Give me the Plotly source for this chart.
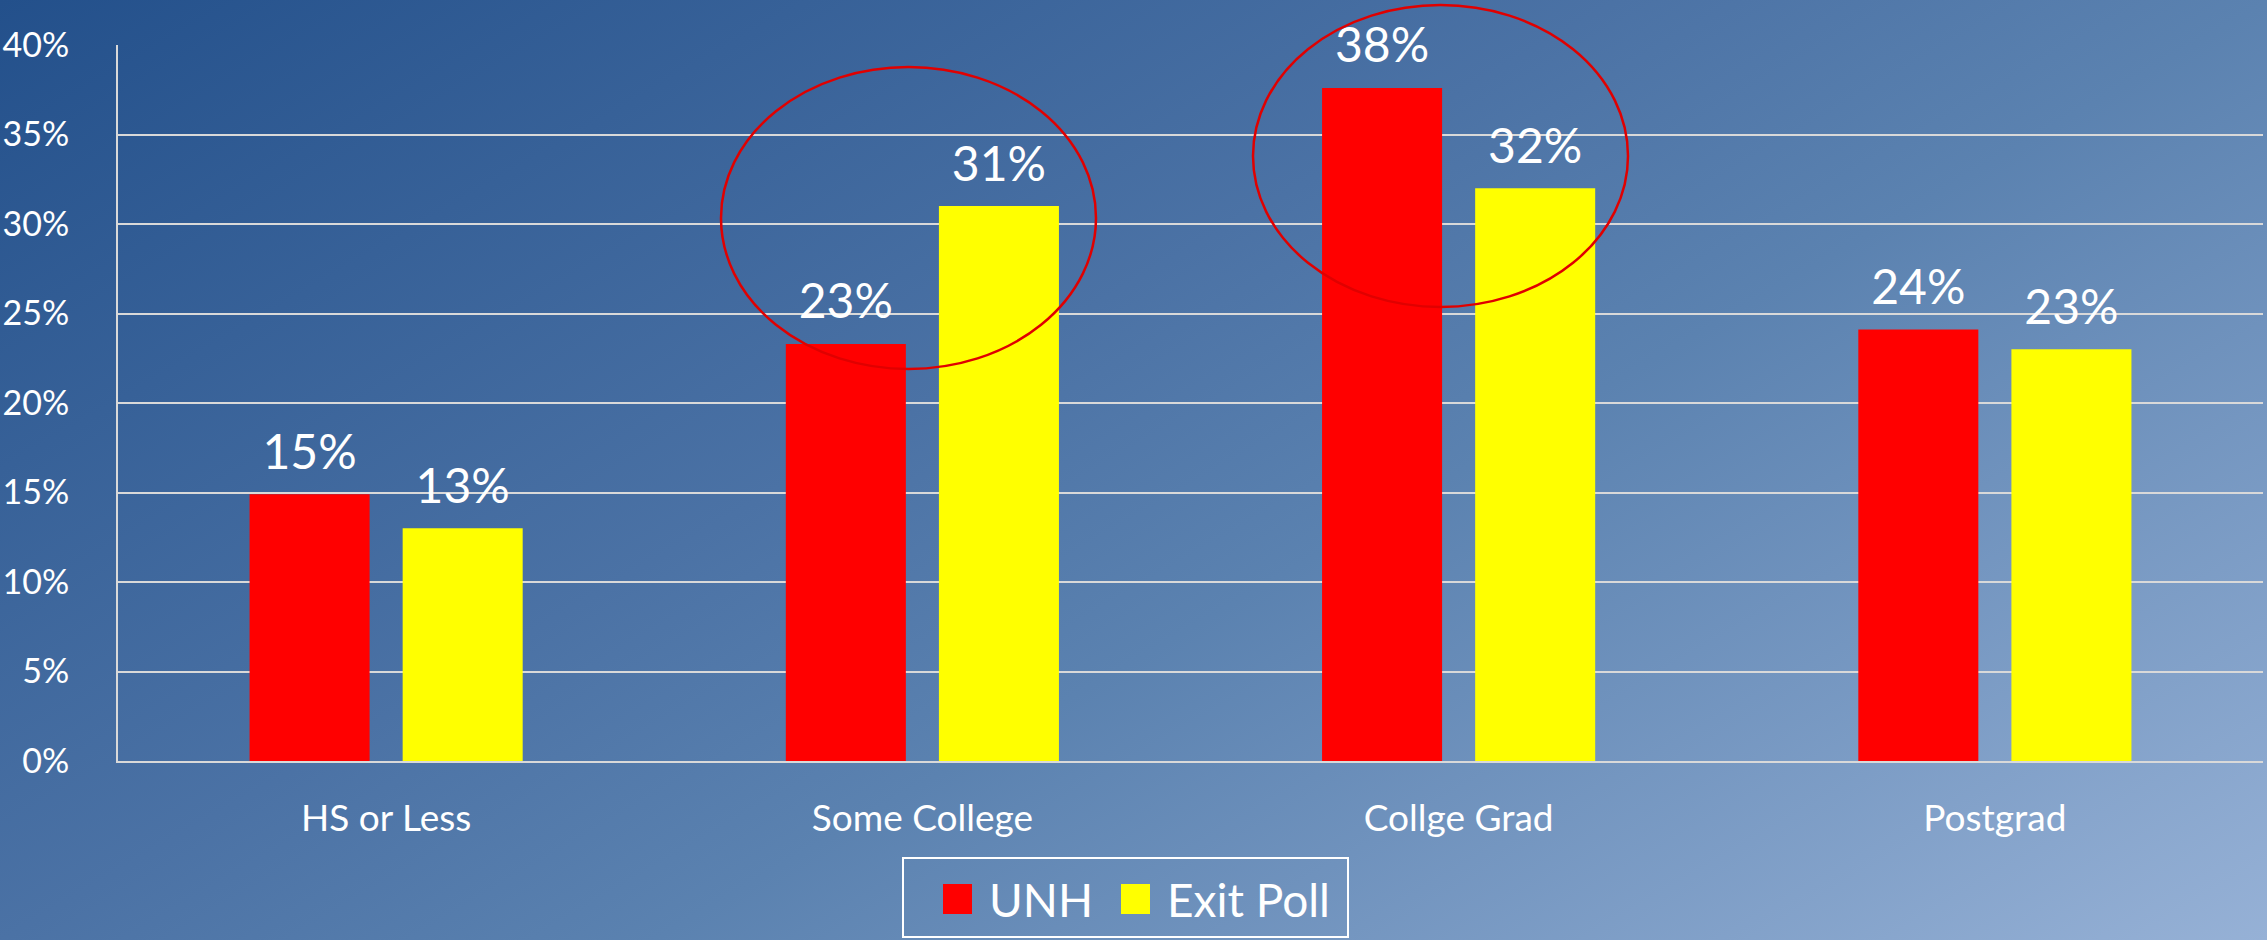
import base64
import plotly.graph_objects as go

# ---------------------------------------------------------------- data
CATEGORIES = ["HS or Less", "Some College", "Collge Grad", "Postgrad"]
SERIES = ["UNH", "Exit Poll"]
UNH = [0.149, 0.233, 0.376, 0.241]
EXIT_POLL = [0.130, 0.310, 0.320, 0.230]
Y_TICKS = [0, 0.05, 0.10, 0.15, 0.20, 0.25, 0.30, 0.35, 0.40]

COLORS = {"UNH": "#FF0000", "Exit Poll": "#FFFF00", "grid": "#D9D9D9",
          "text": "#FFFFFF", "ring": "#E00000"}
FONT = "Lato, 'Open Sans', sans-serif"

W, H = 2267, 940
M = dict(l=118, r=4, t=45, b=179)
PW, PH = W - M["l"] - M["r"], H - M["t"] - M["b"]


def px_x(x):
    return (x - M["l"]) / PW


def px_y(y):
    return (H - M["b"] - y) / PH


# slide-like diagonal gradient behind everything
svg = (
    '<svg xmlns="http://www.w3.org/2000/svg" width="2267" height="940" preserveAspectRatio="none">'
    '<defs><linearGradient id="g" x1="0" y1="0" x2="1.135" y2="0.81">'
    '<stop offset="0" stop-color="#23508B"/><stop offset="0.417" stop-color="#4B72A5"/>'
    '<stop offset="0.585" stop-color="#5B82B0"/><stop offset="1" stop-color="#96B1D6"/>'
    '</linearGradient></defs><rect width="100%" height="100%" fill="url(#g)"/></svg>'
)
bg_src = "data:image/svg+xml;base64," + base64.b64encode(svg.encode()).decode()

fig = go.Figure()
for name, vals in zip(SERIES, [UNH, EXIT_POLL]):
    fig.add_trace(go.Bar(name=name, x=CATEGORIES, y=vals, marker_color=COLORS[name],
                         marker_line_width=0, offsetgroup=name, showlegend=False,
                         hoverinfo="skip"))
    # value labels, lifted a bit above the bar tops like the slide
    fig.add_trace(go.Scatter(x=CATEGORIES, y=vals, mode="markers+text", offsetgroup=name,
                             marker=dict(size=20, opacity=0), texttemplate="%{y:.0%}",
                             textposition="top center", showlegend=False, hoverinfo="skip",
                             textfont=dict(size=48, color=COLORS["text"], family=FONT),
                             cliponaxis=False))

# ---------------------------------------------------------------- highlight rings
shapes = []
for x0, x1, y0, y1 in [(721, 1096, 369, 67), (1253, 1628, 307, 5)]:
    shapes.append(dict(type="circle", xref="paper", yref="paper",
                       x0=px_x(x0), x1=px_x(x1), y0=px_y(y0), y1=px_y(y1),
                       line=dict(color=COLORS["ring"], width=2.5), layer="above"))

# ---------------------------------------------------------------- legend box
shapes.append(dict(type="rect", xref="paper", yref="paper", x0=px_x(903), x1=px_x(1348),
                   y0=px_y(937), y1=px_y(858), line=dict(color="#FFFFFF", width=2)))
annotations = []
for name, sx, tx in [(SERIES[0], 943, 987), (SERIES[1], 1121, 1165)]:
    shapes.append(dict(type="rect", xref="paper", yref="paper", x0=px_x(sx), x1=px_x(sx + 29),
                       y0=px_y(914), y1=px_y(884), fillcolor=COLORS[name], line_width=0))
    annotations.append(dict(xref="paper", yref="paper", x=px_x(tx), y=px_y(899), text=name,
                            showarrow=False, xanchor="left", yanchor="middle",
                            font=dict(size=46, color=COLORS["text"], family=FONT)))

fig.update_layout(
    width=W, height=H, margin=M,
    barmode="group", bargap=0.429, bargroupgap=0.216,
    scattermode="group", scattergap=0.429,
    paper_bgcolor="#4B72A5", plot_bgcolor="rgba(0,0,0,0)",
    font=dict(family=FONT, color=COLORS["text"]),
    showlegend=False,
    images=[dict(source=bg_src, xref="paper", yref="paper",
                 x=-M["l"] / PW, y=1 + M["t"] / PH, sizex=W / PW, sizey=H / PH,
                 xanchor="left", yanchor="top", sizing="stretch", layer="below")],
    shapes=shapes, annotations=annotations,
)
fig.update_yaxes(range=[0, 0.40], tickvals=Y_TICKS, tickformat=".0%", automargin=False,
                 showgrid=True, gridcolor=COLORS["grid"], gridwidth=2,
                 showline=True, linecolor=COLORS["grid"], linewidth=2,
                 zeroline=False, ticks="", ticklabelstandoff=40,
                 tickfont=dict(size=34, color=COLORS["text"], family=FONT))
fig.update_xaxes(showline=True, linecolor=COLORS["grid"], linewidth=2, ticks="",
                 ticklabelstandoff=24, automargin=False,
                 tickfont=dict(size=37, color=COLORS["text"], family=FONT))

# drop the browser's default page margin so the figure fills the window exactly
fig.write_html("out.html", config={"displayModeBar": False},
               post_script="document.body.style.margin='0';document.body.style.overflow='hidden';")
